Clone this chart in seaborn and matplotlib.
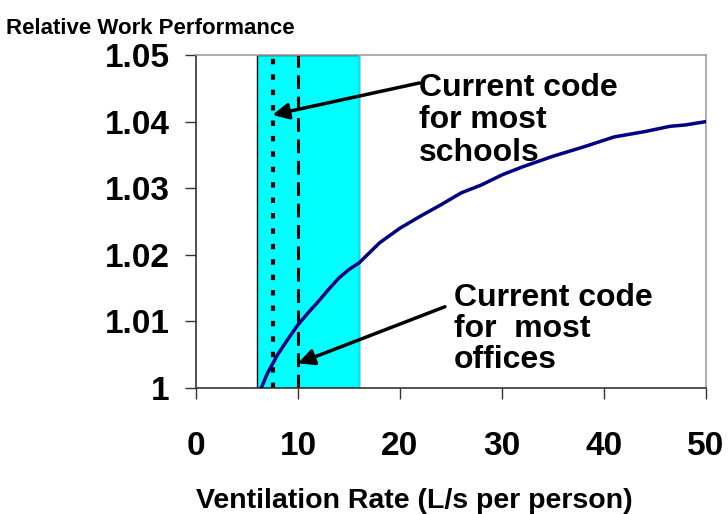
import matplotlib
matplotlib.use("Agg")
import numpy as np
import pandas as pd
import matplotlib.pyplot as plt
import seaborn as sns

# ventilation rate (L/s per person) and relative work performance
vent_rate = [6.4, 7, 8, 9, 10, 11, 12, 13, 14, 15, 16, 17, 18, 20, 22, 24, 26,
             28, 30, 32, 35, 38, 41, 44, 46.5, 48, 50]
performance = [1.000, 1.0022, 1.0050, 1.0073, 1.0095, 1.0113, 1.0130, 1.0148,
               1.0165, 1.0178, 1.0188, 1.0203, 1.0218, 1.0240, 1.0258, 1.0275,
               1.0293, 1.0305, 1.0320, 1.0332, 1.0348, 1.0362, 1.0377, 1.0385,
               1.0393, 1.0395, 1.0400]

band = (6, 16)          # shaded range
schools_rate = 7.5      # dotted line
offices_rate = 10       # dashed line

x_ticks = [0, 10, 20, 30, 40, 50]
y_ticks = [1.0, 1.01, 1.02, 1.03, 1.04, 1.05]
y_tick_labels = ["1", "1.01", "1.02", "1.03", "1.04", "1.05"]

sns.set_theme(style="white")
plt.rcParams['font.family'] = ['Liberation Sans', 'DejaVu Sans']
plt.rcParams['font.weight'] = 'bold'
plt.rcParams['text.color'] = 'black'
plt.rcParams['xtick.color'] = 'black'
plt.rcParams['ytick.color'] = 'black'

df = pd.DataFrame({'rate': vent_rate, 'perf': performance})

fig = plt.figure(figsize=(7.28, 5.14), dpi=100)
ax = fig.add_axes([196/728, 1 - 388/514, 510/728, 333/514])

ax.axvspan(band[0], band[1], facecolor='#00ffff', edgecolor='black', lw=1, zorder=1)
ax.axvline(band[1], color='#00e5ff', lw=1.5, zorder=1.5)
ax.axvline(schools_rate, color='black', lw=3, ls=(0, (1.3, 2.4)), zorder=2)
ax.axvline(offices_rate, color='black', lw=2.2, ls=(0, (4.5, 2.5)), zorder=2)

sns.lineplot(data=df, x='rate', y='perf', color='#000080', lw=2.5, ax=ax, zorder=3)

ax.set_xlim(0, 50)
ax.set_ylim(1.0, 1.05)
ax.set_xticks(x_ticks)
ax.set_yticks(y_ticks)
ax.set_yticklabels(y_tick_labels)
ax.set_xlabel("")
ax.set_ylabel("")
ax.tick_params(axis='both', labelsize=24, direction='out', length=8, width=1,
               color='#333333', labelcolor='black', bottom=True, left=True)
ax.tick_params(axis='x', pad=23)
ax.tick_params(axis='y', pad=11)
for lab in ax.get_xticklabels() + ax.get_yticklabels():
    lab.set_fontweight('bold')

for side in ['top', 'right']:
    ax.spines[side].set_color('#a0a0a0')
for side in ['left', 'bottom']:
    ax.spines[side].set_color('#333333')
for s in ax.spines.values():
    s.set_linewidth(1.2)

arrow = dict(arrowstyle='-|>', color='black', lw=2.5, mutation_scale=24,
             shrinkA=0, shrinkB=0)
ax.annotate("", xy=(schools_rate, 1.041), xytext=(21.9, 1.0458),
            arrowprops=arrow, zorder=5)
ax.annotate("", xy=(offices_rate, 1.0037), xytext=(24.4, 1.0122),
            arrowprops=arrow, zorder=5)
ax.text(21.9, 1.0473, "Current code\nfor most\nschools", fontsize=23,
        fontweight='bold', va='top', ha='left', linespacing=1.1, zorder=5)
ax.text(25.3, 1.0158, "Current code\nfor  most\noffices", fontsize=23,
        fontweight='bold', va='top', ha='left', linespacing=1.05, zorder=5)

fig.text(6/728, 1 - 28/514, "Relative Work Performance", fontsize=16,
         fontweight='bold', va='center', ha='left')
fig.text(414/728, 1 - 501/514, "Ventilation Rate (L/s per person)", fontsize=20.5,
         fontweight='bold', va='center', ha='center')

fig.savefig("out.png", dpi=100)
